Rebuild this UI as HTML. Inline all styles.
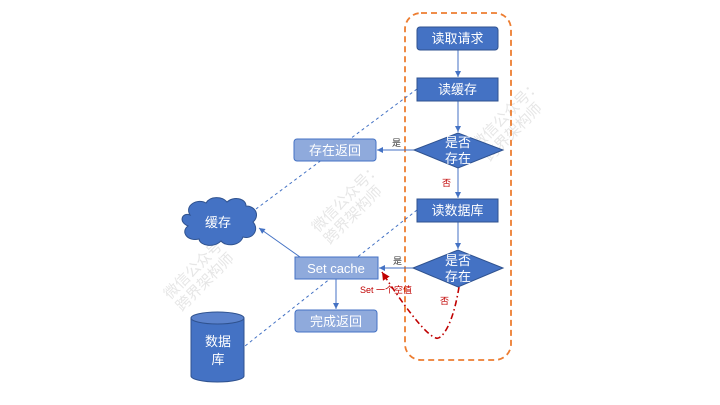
<!DOCTYPE html>
<html><head><meta charset="utf-8"><style>
html,body{margin:0;padding:0;background:#fff;}
svg{display:block;}
text{font-family:"Liberation Sans","Noto Sans CJK SC",sans-serif;}
</style></head><body>
<svg width="720" height="405" viewBox="0 0 720 405" xmlns="http://www.w3.org/2000/svg">
<defs>
<marker id="a" markerWidth="8" markerHeight="8" refX="6" refY="3" orient="auto" markerUnits="userSpaceOnUse"><path d="M0,0 L6,3 L0,6 z" fill="#4472c4"/></marker>
<marker id="r" markerWidth="10" markerHeight="10" refX="8" refY="4" orient="auto" markerUnits="userSpaceOnUse"><path d="M0,0 L8,4 L0,8 z" fill="#c00000"/></marker>
</defs>
<g fill="#dcdcdc" font-size="15" opacity="0.7">
<text transform="translate(170,300) rotate(-45)">微信公众号：</text>
<text transform="translate(182,312) rotate(-45)">跨界架构师</text>
<text transform="translate(318,233) rotate(-45)">微信公众号：</text>
<text transform="translate(330,245) rotate(-45)">跨界架构师</text>
<text transform="translate(478,150) rotate(-45)">微信公众号：</text>
<text transform="translate(490,162) rotate(-45)">跨界架构师</text>
</g>
<rect x="405" y="13" width="106" height="347" rx="16" fill="none" stroke="#ed7d31" stroke-width="1.8" stroke-dasharray="6,4"/>
<line x1="417" y1="89" x2="256" y2="209" stroke="#4472c4" stroke-width="1" stroke-dasharray="3,3"/>
<line x1="417" y1="210" x2="245" y2="346" stroke="#4472c4" stroke-width="1" stroke-dasharray="3,3"/>
<g stroke="#4472c4" stroke-width="1" fill="none">
<line x1="458" y1="50" x2="458" y2="77" marker-end="url(#a)"/>
<line x1="458" y1="101" x2="458" y2="132" marker-end="url(#a)"/>
<line x1="458" y1="168" x2="458" y2="198" marker-end="url(#a)"/>
<line x1="458" y1="222" x2="458" y2="249" marker-end="url(#a)"/>
<line x1="414" y1="150" x2="377" y2="150" marker-end="url(#a)"/>
<line x1="413" y1="268" x2="379" y2="268" marker-end="url(#a)"/>
<line x1="336" y1="279" x2="336" y2="309" marker-end="url(#a)"/>
<line x1="300" y1="257" x2="259" y2="228" marker-end="url(#a)"/>
</g>
<path d="M459,287 C452,330 440,340 436,338 C425,335 400,300 382,272" fill="none" stroke="#c00000" stroke-width="1.6" stroke-dasharray="6,3,1.5,3" marker-end="url(#r)"/>
<g fill="#4472c4" stroke="#2f528f" stroke-width="1">
<rect x="417" y="27" width="81" height="23" rx="3"/>
<rect x="417" y="78" width="81" height="23"/>
<rect x="417" y="199" width="81" height="23"/>
<polygon points="414,150 458,133 503,150 458,168"/>
<polygon points="413,268 458,250 503,268 458,287"/>
</g>
<g fill="#8faadc" stroke="#4472c4" stroke-width="1">
<rect x="294" y="139" width="82" height="22" rx="3"/>
<rect x="295" y="257" width="83" height="22"/>
<rect x="295" y="310" width="82" height="22" rx="3"/>
</g>
<path d="M190,215 C184,205 198,198 206,203 C210,196 222,196 227,202 C233,196 246,198 246,206 C256,206 260,216 253,222 C260,230 252,240 243,237 C240,246 226,247 221,241 C214,248 200,246 199,239 C188,242 180,232 188,226 C178,222 182,212 190,215 Z" fill="#4472c4" stroke="#2f528f" stroke-width="1"/>
<path d="M191,318 L191,376 A26.5,6 0 0 0 244,376 L244,318" fill="#4472c4" stroke="#2f528f"/>
<ellipse cx="217.5" cy="318" rx="26.5" ry="6" fill="#5b82cc" stroke="#2f528f"/>
<g fill="#fff" font-size="13" text-anchor="middle">
<text x="457.5" y="43">读取请求</text>
<text x="457.5" y="94">读缓存</text>
<text x="457.5" y="215">读数据库</text>
<text x="458" y="147">是否</text>
<text x="458" y="163">存在</text>
<text x="458" y="265">是否</text>
<text x="458" y="281">存在</text>
<text x="335" y="155">存在返回</text>
<text x="336" y="273">Set cache</text>
<text x="336" y="326">完成返回</text>
<text x="218" y="227">缓存</text>
<text x="218" y="346">数据</text>
<text x="218" y="364">库</text>
</g>
<g font-size="9">
<text x="392" y="146" fill="#333">是</text>
<text x="393" y="264" fill="#333">是</text>
<text x="442" y="186" fill="#c00000">否</text>
<text x="440" y="304" fill="#c00000">否</text>
<text x="360" y="293" fill="#c00000">Set 一个空值</text>
</g>
</svg>
</body></html>
